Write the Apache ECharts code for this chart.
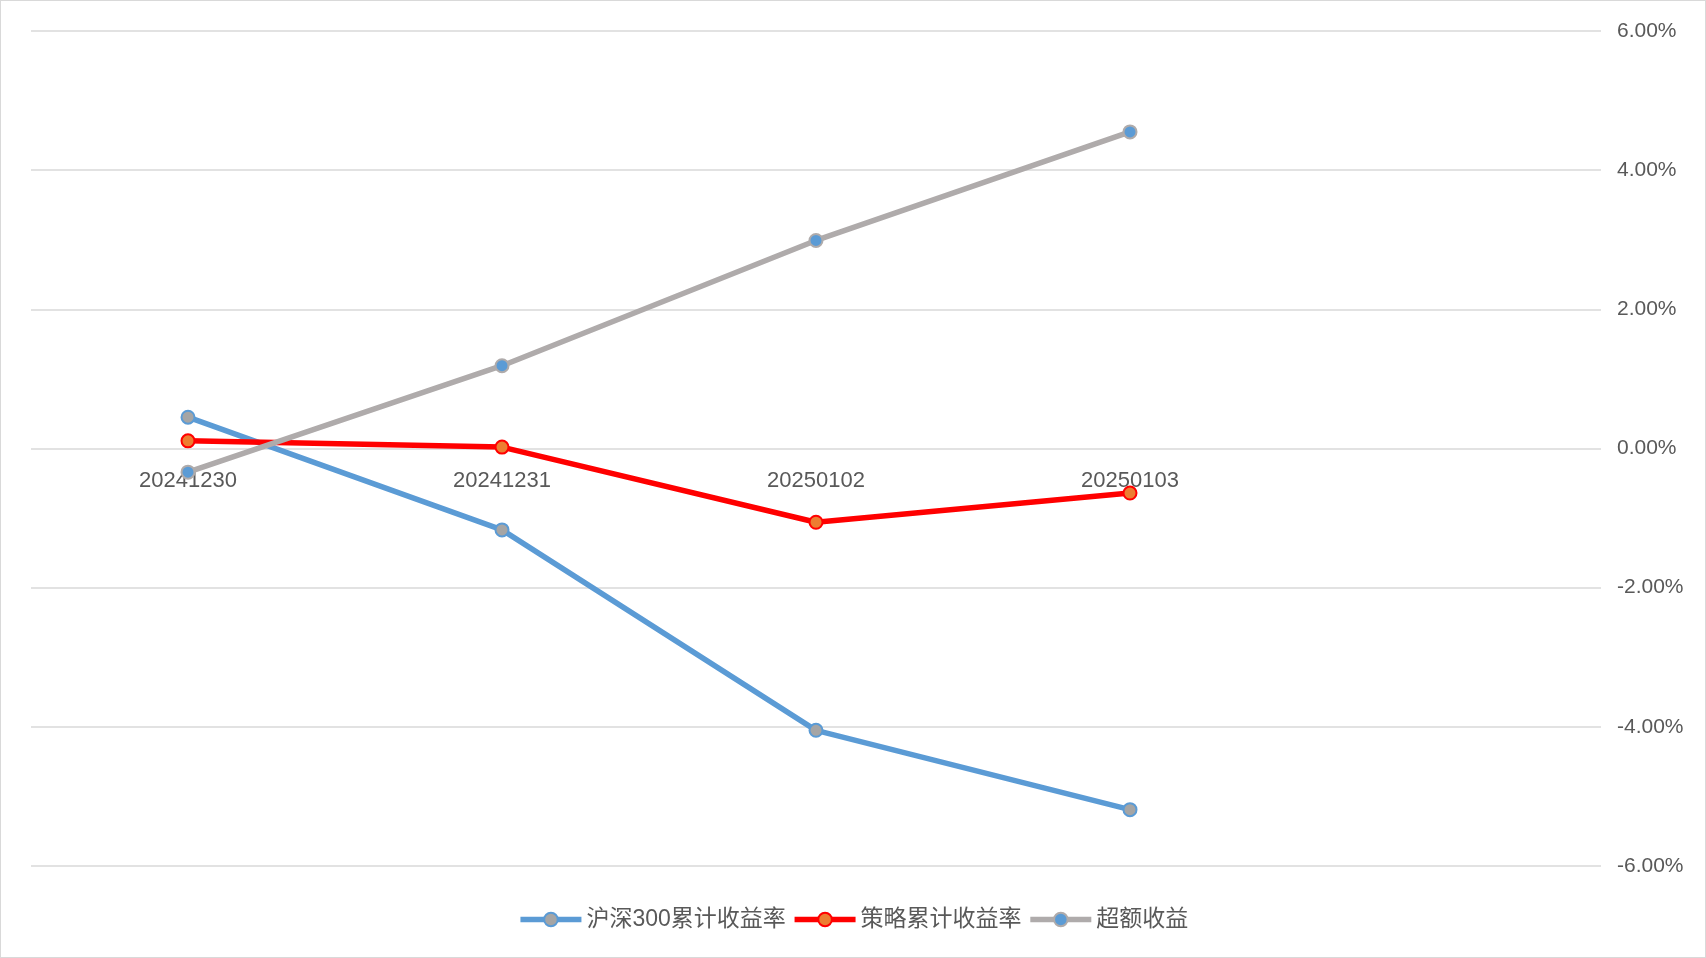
<!DOCTYPE html>
<html>
<head>
<meta charset="utf-8">
<script src="https://cdn.jsdelivr.net/npm/echarts@6/dist/echarts.min.js"></script>
<style>
html,body{margin:0;padding:0;background:#fff;}
#chart{width:1706px;height:958px;box-sizing:border-box;border:1.5px solid #D9D9D9;}
</style>
</head>
<body>
<div id="chart"></div>
<script>
const categories = ['20241230', '20241231', '20250102', '20250103', ''];
const hs300 = [0.45, -1.17, -4.05, -5.19, null];
const strategy = [0.11, 0.02, -1.06, -0.64, null];
const excess = [-0.34, 1.19, 2.99, 4.55, null];
const yTicks = { min: -6, max: 6, interval: 2 };

const FONT = '"Liberation Sans", "Noto Sans CJK SC", sans-serif';
const GRID = { left: 30, right: 104, top: 30, bottom: 91 };
const H = 958;
const plotH = H - GRID.top - GRID.bottom;
// distance of value 0 from the plot bottom, so the category labels sit on the zero line
const zeroFromBottom = plotH * (0 - yTicks.min) / (yTicks.max - yTicks.min);

const chart = echarts.init(document.getElementById('chart'));
function mk(name, data, lineColor, fillColor) {
  return {
    name: name, type: 'line', data: data,
    symbol: 'circle', symbolSize: 13,
    lineStyle: { color: lineColor, width: 5.5 },
    itemStyle: { color: fillColor, borderColor: lineColor, borderWidth: 2 },
    emphasis: { disabled: true },
    animation: false
  };
}
chart.setOption({
  animation: false,
  grid: Object.assign({ containLabel: false }, GRID),
  legend: {
    left: 'center', top: 902,
    itemWidth: 61, itemHeight: 17, itemGap: 6,
    lineStyle: { width: 5.5 },
    itemStyle: { borderWidth: 2 },
    textStyle: { fontFamily: FONT, fontSize: 23, color: '#595959' },
    data: ['沪深300累计收益率', '策略累计收益率', '超额收益']
  },
  xAxis: {
    type: 'category', data: categories, boundaryGap: true,
    offset: -zeroFromBottom,
    axisLine: { show: false, onZero: false },
    axisTick: { show: false },
    axisLabel: { fontFamily: FONT, fontSize: 22, color: '#595959', margin: 22, interval: 0 }
  },
  yAxis: {
    type: 'value', position: 'right',
    min: yTicks.min, max: yTicks.max, interval: yTicks.interval,
    axisLine: { show: false }, axisTick: { show: false },
    splitLine: { lineStyle: { color: '#D9D9D9', width: 1.5 } },
    axisLabel: { fontFamily: FONT, fontSize: 21, color: '#595959', margin: 16,
      formatter: v => v.toFixed(2) + '%' }
  },
  series: [
    mk('沪深300累计收益率', hs300, '#5B9BD5', '#A5A5A5'),
    mk('策略累计收益率', strategy, '#FF0000', '#ED7D31'),
    mk('超额收益', excess, '#AFABAB', '#5B9BD5')
  ]
});
</script>
</body>
</html>
